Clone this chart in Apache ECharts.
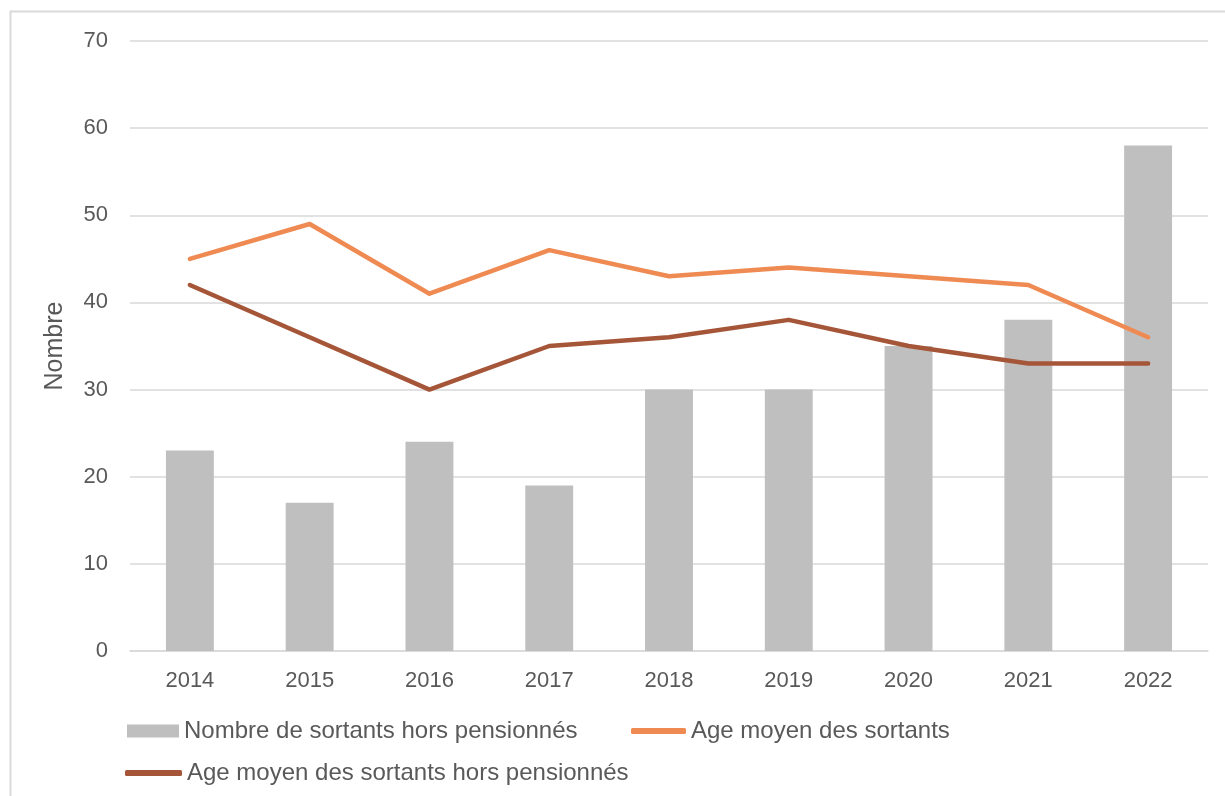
<!DOCTYPE html>
<html>
<head>
<meta charset="utf-8">
<script src="https://cdn.jsdelivr.net/npm/echarts@6/dist/echarts.min.js"></script>
<style>
  html, body { margin: 0; padding: 0; background: #ffffff; }
  #chart { width: 1225px; height: 796px; }
</style>
</head>
<body>
<div id="chart"></div>
<script>
// années
var years = ['2014', '2015', '2016', '2017', '2018', '2019', '2020', '2021', '2022'];
// nombre de sortants hors pensionnés (barres)
var nbSortants = [23, 17, 24, 19, 30, 30, 35, 38, 58];
// âge moyen des sortants
var ageMoyen = [45, 49, 41, 46, 43, 44, 43, 42, 36];
// âge moyen des sortants hors pensionnés
var ageMoyenHorsPens = [42, 36, 30, 35, 36, 38, 35, 33, 33];
var yTicks = [0, 10, 20, 30, 40, 50, 60, 70];

var chart = echarts.init(document.getElementById('chart'), null, { renderer: 'canvas' });

var police = 'Liberation Sans, Arial, sans-serif';
var txt = { color: '#595959', fontFamily: police, fontSize: 24 };

var option = {
  backgroundColor: '#ffffff',
  animation: false,
  textStyle: { fontFamily: police },
  graphic: [{
    type: 'rect',
    shape: { x: 10.5, y: 11.5, width: 1230, height: 800 },
    style: { fill: null, stroke: '#d9d9d9', lineWidth: 2 },
    silent: true
  }],
  grid: { left: 130, right: 17, top: 41, bottom: 145, containLabel: false },
  legend: [
    {
      left: 122, top: 714, itemWidth: 52, itemHeight: 13, icon: 'rect',
      data: ['Nombre de sortants hors pensionnés'],
      textStyle: txt
    },
    {
      left: 626, top: 714, itemWidth: 55, itemHeight: 6, icon: 'roundRect',
      data: ['Age moyen des sortants'],
      textStyle: txt
    },
    {
      left: 120, top: 756, itemWidth: 57, itemHeight: 6, icon: 'roundRect',
      data: ['Age moyen des sortants hors pensionnés'],
      textStyle: txt
    }
  ],
  xAxis: {
    type: 'category',
    data: years,
    axisLine: { show: true, lineStyle: { color: '#d9d9d9', width: 1.5 } },
    axisTick: { show: false },
    axisLabel: { color: '#595959', fontSize: 22, margin: 19, fontFamily: police },
    splitLine: { show: false }
  },
  yAxis: {
    type: 'value',
    min: yTicks[0],
    max: yTicks[yTicks.length - 1],
    interval: 10,
    name: 'Nombre',
    nameLocation: 'middle',
    nameGap: 62,
    nameRotate: 90,
    nameTextStyle: { color: '#595959', fontSize: 25, fontFamily: police },
    axisLine: { show: false },
    axisTick: { show: false },
    axisLabel: { color: '#595959', fontSize: 22, margin: 22, fontFamily: police },
    splitLine: { show: true, lineStyle: { color: '#d9d9d9', width: 1.5 } }
  },
  series: [
    {
      name: 'Nombre de sortants hors pensionnés',
      type: 'bar',
      data: nbSortants,
      barWidth: '40%',
      itemStyle: { color: '#bfbfbf' },
      z: 1
    },
    {
      name: 'Age moyen des sortants',
      type: 'line',
      data: ageMoyen,
      symbol: 'none',
      lineStyle: { color: '#ee8a52', width: 4.5, cap: 'round', join: 'round' },
      itemStyle: { color: '#ee8a52' },
      z: 3
    },
    {
      name: 'Age moyen des sortants hors pensionnés',
      type: 'line',
      data: ageMoyenHorsPens,
      symbol: 'none',
      lineStyle: { color: '#a65638', width: 4.5, cap: 'round', join: 'round' },
      itemStyle: { color: '#a65638' },
      z: 3
    }
  ]
};

chart.setOption(option);
</script>
</body>
</html>
